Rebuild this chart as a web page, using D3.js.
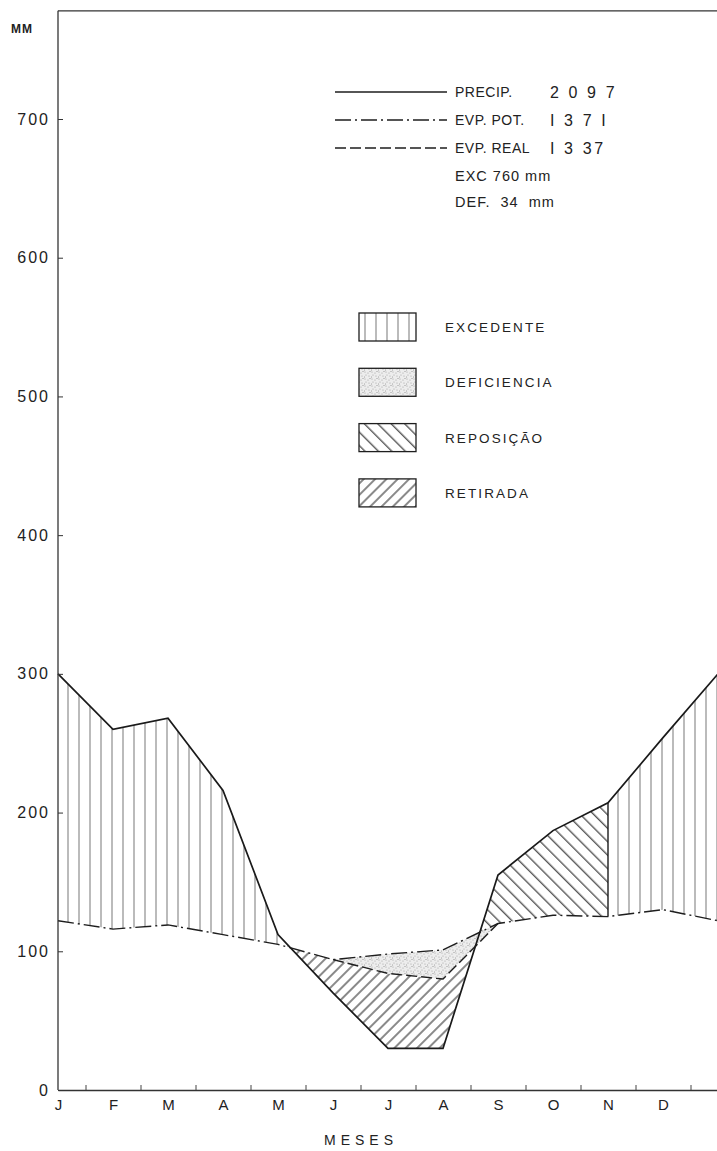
<!DOCTYPE html>
<html>
<head>
<meta charset="utf-8">
<script src="https://cdn.jsdelivr.net/npm/d3@7"></script>
<style>
  html, body { margin: 0; padding: 0; background: #fff; }
  svg { display: block; }
  text { font-family: "Liberation Sans", Arial, sans-serif; fill: #222; }
</style>
</head>
<body>
<div id="chart"></div>
<script>
// ---- data ----
const months = ["J","F","M","A","M","J","J","A","S","O","N","D"];
const monthIndex = [0,1,2,3,4,5,6,7,8,9,10,11,12]; // last point = January again
const precip  = [300,260,268,216,112,70,30,30,155,187,207,254,300];
const evpPot  = [122,116,119,112,105,94,98,101,120,126,125,130,122];
const evpReal = [122,116,119,112,105,94,84,80,120,126,125,130,122];
const yTicks  = [0,100,200,300,400,500,600,700];
const lineLegend = [
  {label: "PRECIP.", value: "2 0 9 7", kind: "solid"},
  {label: "EVP. POT.", value: "I 3 7 I", kind: "dashdot"},
  {label: "EVP. REAL", value: "I 3 37", kind: "dashed"}
];
const extraLegend = ["EXC 760 mm", "DEF.  34  mm"];
const areaLegend = [
  {label: "EXCEDENTE", fill: "excedente"},
  {label: "DEFICIENCIA", fill: "deficiencia"},
  {label: "REPOSIÇÃO", fill: "reposicao"},
  {label: "RETIRADA", fill: "retirada"}
];
const yTop = 778;
const rechargeStart = 7, rechargeEnd = 10; // months where recharge zone lies (A..N)

// ---- setup ----
const W = 717, H = 1151;
const svg = d3.select("#chart").append("svg").attr("width", W).attr("height", H);
const x = d3.scaleLinear().domain([0, 12]).range([58, 718]);
const y = d3.scaleLinear().domain([0, 700]).range([1090, 119]);

const defs = svg.append("defs");
// patterns
const pEx = defs.append("pattern").attr("id", "excedente").attr("patternUnits", "userSpaceOnUse")
  .attr("width", 11).attr("height", 20).attr("x", 58);
pEx.append("rect").attr("width", 11).attr("height", 20).attr("fill", "#fff");
pEx.append("line").attr("x1", 10).attr("x2", 10).attr("y1", 0).attr("y2", 20)
  .attr("stroke", "#777").attr("stroke-width", 1);

const pRep = defs.append("pattern").attr("id", "reposicao").attr("patternUnits", "userSpaceOnUse")
  .attr("width", 9.5).attr("height", 9.5).attr("patternTransform", "rotate(45)");
pRep.append("rect").attr("width", 9.5).attr("height", 9.5).attr("fill", "#fff");
pRep.append("line").attr("x1", 0).attr("x2", 9.5).attr("y1", 4).attr("y2", 4)
  .attr("stroke", "#2a2a2a").attr("stroke-width", 1.1);

const pRet = defs.append("pattern").attr("id", "retirada").attr("patternUnits", "userSpaceOnUse")
  .attr("width", 8).attr("height", 8).attr("patternTransform", "rotate(-45)");
pRet.append("rect").attr("width", 8).attr("height", 8).attr("fill", "#fff");
pRet.append("line").attr("x1", 0).attr("x2", 8).attr("y1", 4).attr("y2", 4)
  .attr("stroke", "#2a2a2a").attr("stroke-width", 1.1);

const pDef = defs.append("pattern").attr("id", "deficiencia").attr("patternUnits", "userSpaceOnUse")
  .attr("width", 7).attr("height", 7);
pDef.append("rect").attr("width", 7).attr("height", 7).attr("fill", "#ededed");
[[1,1],[4,2],[2,4],[5,5],[6,0.5],[0.5,6]].forEach(([cx, cy]) =>
  pDef.append("circle").attr("cx", cx).attr("cy", cy).attr("r", 0.6).attr("fill", "#a0a0a0"));

// clip paths
const areaGen = (lo, hi) => d3.area().x(i => x(i)).y0(i => y(lo(i))).y1(i => y(hi(i)));
defs.append("clipPath").attr("id", "aboveEP").append("path")
  .attr("d", areaGen(i => evpPot[i], () => yTop)(monthIndex));
defs.append("clipPath").attr("id", "belowER").append("path")
  .attr("d", areaGen(() => 0, i => evpReal[i])(monthIndex));
function xClip(id, a, b) {
  defs.append("clipPath").attr("id", id).append("rect")
    .attr("x", x(a)).attr("width", x(b) - x(a)).attr("y", 0).attr("height", H);
}
xClip("clipEx1", 0, rechargeStart);
xClip("clipRep", rechargeStart, rechargeEnd);
xClip("clipEx2", rechargeEnd, 12);

// ---- areas ----
const belowP = areaGen(() => 0, i => precip[i])(monthIndex);
const surplus = svg.append("g").attr("clip-path", "url(#aboveEP)");
surplus.append("path").attr("d", belowP).attr("fill", "url(#excedente)").attr("clip-path", "url(#clipEx1)");
surplus.append("path").attr("d", belowP).attr("fill", "url(#reposicao)").attr("clip-path", "url(#clipRep)");
surplus.append("path").attr("d", belowP).attr("fill", "url(#excedente)").attr("clip-path", "url(#clipEx2)");

svg.append("g").attr("clip-path", "url(#belowER)")
  .append("path").attr("d", areaGen(i => precip[i], () => yTop)(monthIndex))
  .attr("fill", "url(#retirada)");

svg.append("path").attr("d", areaGen(i => evpReal[i], i => evpPot[i])(monthIndex))
  .attr("fill", "url(#deficiencia)");

// ---- lines ----
const lineGen = arr => d3.line().x(i => x(i)).y(i => y(arr[i]));
svg.append("path").attr("d", lineGen(evpPot)(monthIndex)).attr("fill", "none")
  .attr("stroke", "#1e1e1e").attr("stroke-width", 1.4).attr("stroke-dasharray", "16,4,2,4");
svg.append("path").attr("d", lineGen(evpReal).defined(i => i >= 5 && i <= 8)(monthIndex)).attr("fill", "none")
  .attr("stroke", "#1e1e1e").attr("stroke-width", 1.4).attr("stroke-dasharray", "11,4");
svg.append("path").attr("d", lineGen(precip)(monthIndex)).attr("fill", "none")
  .attr("stroke", "#1a1a1a").attr("stroke-width", 1.7);
// boundary between reposição and excedente
svg.append("line").attr("x1", x(rechargeEnd)).attr("x2", x(rechargeEnd))
  .attr("y1", y(evpPot[rechargeEnd])).attr("y2", y(precip[rechargeEnd]))
  .attr("stroke", "#1a1a1a").attr("stroke-width", 1.4);

// ---- axes ----
const yAxis = svg.append("g").attr("transform", `translate(${x(0)},0)`)
  .call(d3.axisLeft(y).tickValues(yTicks).tickSizeInner(-5).tickSizeOuter(0).tickPadding(8));
yAxis.select(".domain").remove();
yAxis.selectAll(".tick line").attr("stroke", "#333");
yAxis.selectAll("text").style("font-size", "16px").style("letter-spacing", "2px")
  .attr("fill", "#222").style("font-family", "'Liberation Sans', Arial, sans-serif");
svg.append("line").attr("x1", x(0)).attr("x2", x(0)).attr("y1", y(yTop)).attr("y2", y(0))
  .attr("stroke", "#333").attr("stroke-width", 1.3);
svg.append("line").attr("x1", x(0)).attr("x2", W).attr("y1", y(yTop)).attr("y2", y(yTop))
  .attr("stroke", "#333").attr("stroke-width", 1.3);

const xLab = svg.append("g").attr("transform", `translate(0,${y(0)})`)
  .call(d3.axisBottom(x).tickValues(d3.range(12)).tickFormat(i => months[i]).tickSize(0).tickPadding(9));
xLab.select(".domain").attr("stroke", "#333").attr("stroke-width", 1.5);
xLab.selectAll("text").style("font-size", "15px").attr("fill", "#222")
  .style("font-family", "'Liberation Sans', Arial, sans-serif");
const xTk = svg.append("g").attr("transform", `translate(0,${y(0)})`)
  .call(d3.axisBottom(x).tickValues(d3.range(12).map(i => i + 0.5)).tickFormat("").tickSizeInner(-5).tickSizeOuter(0));
xTk.select(".domain").remove();
xTk.selectAll(".tick line").attr("stroke", "#444");

svg.append("text").attr("x", 22).attr("y", 33).attr("text-anchor", "middle")
  .style("font-size", "12px").style("font-weight", "bold").style("letter-spacing", "1px").text("MM");
svg.append("text").attr("x", 361).attr("y", 1145).attr("text-anchor", "middle")
  .style("font-size", "14px").style("letter-spacing", "5px").text("MESES");

// ---- legend: lines ----
const dashFor = {solid: null, dashdot: "16,4,2,4", dashed: "11,4"};
lineLegend.forEach((d, k) => {
  const yy = 92 + k * 28;
  svg.append("line").attr("x1", 335).attr("x2", 447).attr("y1", yy).attr("y2", yy)
    .attr("stroke", "#1e1e1e").attr("stroke-width", 1.3).attr("stroke-dasharray", dashFor[d.kind]);
  svg.append("text").attr("x", 455).attr("y", yy + 5).style("font-size", "14px")
    .style("letter-spacing", "0.5px").text(d.label);
  svg.append("text").attr("x", 550).attr("y", yy + 6).style("font-size", "16px")
    .style("letter-spacing", "2.6px").text(d.value);
});
extraLegend.forEach((t, k) => {
  svg.append("text").attr("x", 455).attr("y", 181 + k * 26).style("font-size", "14.5px")
    .style("letter-spacing", "1px").style("white-space", "pre").attr("xml:space", "preserve").text(t);
});

// ---- legend: areas ----
areaLegend.forEach((d, k) => {
  const yy = 313 + k * 55.3;
  svg.append("rect").attr("x", 359).attr("y", yy).attr("width", 57).attr("height", 28)
    .attr("fill", `url(#${d.fill})`).attr("stroke", "#1e1e1e").attr("stroke-width", 1.3);
  svg.append("text").attr("x", 445).attr("y", yy + 19).style("font-size", "13.5px")
    .style("letter-spacing", "2.1px").text(d.label);
});
</script>
</body>
</html>
